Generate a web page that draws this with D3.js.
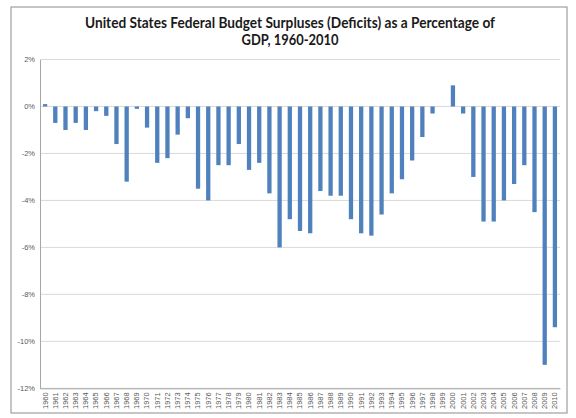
<!DOCTYPE html>
<html><head><meta charset="utf-8">
<script src="https://cdn.jsdelivr.net/npm/d3@7"></script>
<style>body{margin:0;background:#fff}svg{display:block}</style>
</head><body>
<script>
const years = d3.range(1960, 2011).map(String);
const values = [
  0.1, -0.7, -1.0, -0.7, -1.0, -0.2, -0.4, -1.6, -3.2, -0.1,
  -0.9, -2.4, -2.2, -1.2, -0.5, -3.5, -4.0, -2.5, -2.5, -1.6,
  -2.7, -2.4, -3.7, -6.0, -4.8, -5.3, -5.4, -3.6, -3.8, -3.8,
  -4.8, -5.4, -5.5, -4.6, -3.7, -3.1, -2.3, -1.3, -0.3, 0.0,
  0.9, -0.3, -3.0, -4.9, -4.9, -4.0, -3.3, -2.5, -4.5, -11.0,
  -9.4
];
const yTicks = [2, 0, -2, -4, -6, -8, -10, -12];
const titleLines = ["United States Federal Budget Surpluses (Deficits) as a Percentage of", "GDP, 1960-2010"];

const W = 576, H = 418;
const svg = d3.select("body").append("svg").attr("width", W).attr("height", H);
svg.append("rect").attr("x", 11).attr("y", 7).attr("width", 556).attr("height", 406)
  .attr("fill", "#fff").attr("stroke", "#8c8c8c").attr("stroke-width", 1);

const x = d3.scaleBand().domain(years).range([40, 560]).paddingInner(0.58).paddingOuter(0.29);
const y = d3.scaleLinear().domain([-12, 2]).range([388.3, 59.5]);

// gridlines
svg.append("g").selectAll("line").data(yTicks).join("line")
  .attr("x1", 40).attr("x2", 560).attr("y1", d => y(d)).attr("y2", d => y(d))
  .attr("stroke", "#d9d9d9").attr("stroke-width", 1);

// y axis
const yAxis = d3.axisLeft(y).tickValues(yTicks).tickFormat(d => d + "%").tickSize(0).tickPadding(5);
const gy = svg.append("g").attr("transform", "translate(40,0)").call(yAxis);
gy.select(".domain").attr("stroke", "#a6a6a6");
gy.selectAll("text").attr("font-family", "Liberation Sans, Arial, sans-serif").attr("font-size", 7.5).attr("fill", "#595959");

// bars
svg.append("g").selectAll("rect").data(values).join("rect")
  .attr("x", (d, i) => x(years[i]))
  .attr("width", x.bandwidth())
  .attr("y", d => y(Math.max(0, d)))
  .attr("height", d => Math.abs(y(d) - y(0)))
  .attr("fill", "#4f81bd");

// x axis at bottom
const xAxis = d3.axisBottom(x).tickSize(0).tickPadding(4);
const gx = svg.append("g").attr("transform", `translate(0,${y(-12)})`).call(xAxis);
gx.select(".domain").attr("stroke", "#a6a6a6");
gx.selectAll("text")
  .attr("font-family", "Liberation Sans, Arial, sans-serif").attr("font-size", 7.5).attr("fill", "#595959")
  .attr("transform", "rotate(-90)").attr("text-anchor", "end")
  .attr("x", -4).attr("y", 0).attr("dy", "0.32em");

// title
const t = svg.append("g").attr("font-family", "Lato, 'Open Sans', sans-serif").attr("font-weight", "bold")
  .attr("font-size", 14.5).attr("fill", "#1a1a1a").attr("text-anchor", "middle");
t.append("text").attr("x", 290).attr("y", 28).attr("textLength", 410).attr("lengthAdjust", "spacingAndGlyphs").text(titleLines[0]);
t.append("text").attr("x", 290).attr("y", 45).attr("textLength", 97).attr("lengthAdjust", "spacingAndGlyphs").text(titleLines[1]);
</script>
</body></html>
